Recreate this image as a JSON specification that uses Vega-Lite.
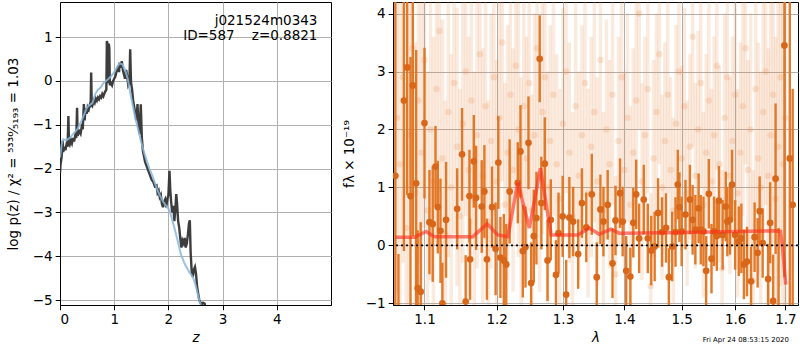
{
  "$schema": "https://vega.github.io/schema/vega-lite/v6.json",
  "padding": {"left": 5, "top": 1, "right": 3, "bottom": 0},
  "spacing": 9,
  "config": {
    "font": "DejaVu Sans",
    "view": {"stroke": "black", "strokeWidth": 1},
    "axis": {
      "gridColor": "#b0b0b0", "gridWidth": 1, "gridOpacity": 1,
      "domainColor": "black", "tickColor": "black", "tickSize": 4.8,
      "labelFontSize": 13.5, "labelColor": "black", "labelPadding": 3,
      "titleFontSize": 13.5, "titleFontWeight": "normal", "titleColor": "black"
    }
  },
  "datasets": {
    "dark": [
      {"z":0.0,"y":-2.1},{"z":0.01,"y":-1.9},{"z":0.03,"y":-1.74},{"z":0.05,"y":-1.36},{"z":0.06,"y":-1.62},{"z":0.08,"y":-1.5},{"z":0.10,"y":-1.58},{"z":0.12,"y":-1.45},{"z":0.14,"y":-1.5},{"z":0.155,"y":-0.8},{"z":0.165,"y":-1.4},{"z":0.18,"y":-1.45},{"z":0.20,"y":-1.35},{"z":0.22,"y":-1.42},{"z":0.24,"y":-1.3},{"z":0.26,"y":-1.38},{"z":0.28,"y":-1.25},{"z":0.30,"y":-1.3},{"z":0.315,"y":-0.61},{"z":0.325,"y":-1.25},{"z":0.34,"y":-1.2},{"z":0.36,"y":-1.15},{"z":0.38,"y":-1.2},{"z":0.40,"y":-1.05},{"z":0.42,"y":-1.1},{"z":0.44,"y":-0.53},{"z":0.455,"y":-0.9},{"z":0.47,"y":-0.62},{"z":0.49,"y":-0.75},{"z":0.51,"y":-0.6},{"z":0.53,"y":-0.65},{"z":0.55,"y":-0.55},{"z":0.565,"y":-0.6},{"z":0.575,"y":0.19},{"z":0.585,"y":-0.5},{"z":0.60,"y":-0.55},{"z":0.62,"y":-0.45},{"z":0.64,"y":-0.5},{"z":0.66,"y":-0.4},{"z":0.68,"y":-0.45},{"z":0.70,"y":-0.38},{"z":0.72,"y":-0.42},{"z":0.74,"y":-0.35},{"z":0.76,"y":-0.38},{"z":0.78,"y":-0.3},{"z":0.80,"y":-0.35},{"z":0.83,"y":-0.25},{"z":0.855,"y":-0.2},{"z":0.865,"y":0.91},{"z":0.875,"y":0.85},{"z":0.885,"y":-0.05},{"z":0.90,"y":0.85},{"z":0.91,"y":0.75},{"z":0.92,"y":-0.1},{"z":0.94,"y":-0.05},{"z":0.96,"y":-0.1},{"z":0.98,"y":0.0},{"z":1.00,"y":0.05},{"z":1.02,"y":0.1},{"z":1.04,"y":0.2},{"z":1.06,"y":0.28},{"z":1.08,"y":0.35},{"z":1.09,"y":0.2},{"z":1.10,"y":0.42},{"z":1.12,"y":0.3},{"z":1.14,"y":0.45},{"z":1.16,"y":0.25},{"z":1.18,"y":0.15},{"z":1.20,"y":0.05},{"z":1.22,"y":0.25},{"z":1.24,"y":0.1},{"z":1.26,"y":-0.1},{"z":1.28,"y":-0.05},{"z":1.295,"y":0.72},{"z":1.31,"y":-0.03},{"z":1.33,"y":-0.2},{"z":1.35,"y":-0.45},{"z":1.37,"y":-0.6},{"z":1.39,"y":-0.76},{"z":1.41,"y":-0.9},{"z":1.43,"y":-0.53},{"z":1.45,"y":-1.05},{"z":1.47,"y":-1.21},{"z":1.49,"y":-0.53},{"z":1.51,"y":-1.3},{"z":1.53,"y":-1.6},{"z":1.55,"y":-1.72},{"z":1.57,"y":-1.85},{"z":1.60,"y":-1.95},{"z":1.63,"y":-2.05},{"z":1.66,"y":-2.15},{"z":1.69,"y":-2.25},{"z":1.72,"y":-2.3},{"z":1.75,"y":-2.4},{"z":1.78,"y":-2.38},{"z":1.80,"y":-2.55},{"z":1.82,"y":-2.5},{"z":1.84,"y":-2.65},{"z":1.86,"y":-2.6},{"z":1.88,"y":-2.8},{"z":1.90,"y":-2.88},{"z":1.92,"y":-2.75},{"z":1.94,"y":-2.7},{"z":1.96,"y":-2.88},{"z":1.98,"y":-2.7},{"z":2.00,"y":-2.6},{"z":2.02,"y":-2.05},{"z":2.035,"y":-2.5},{"z":2.05,"y":-2.75},{"z":2.07,"y":-3.0},{"z":2.09,"y":-2.85},{"z":2.11,"y":-3.2},{"z":2.13,"y":-2.9},{"z":2.145,"y":-2.58},{"z":2.16,"y":-2.8},{"z":2.18,"y":-3.2},{"z":2.20,"y":-3.35},{"z":2.22,"y":-3.6},{"z":2.24,"y":-3.8},{"z":2.26,"y":-3.64},{"z":2.28,"y":-3.7},{"z":2.30,"y":-3.58},{"z":2.32,"y":-3.8},{"z":2.34,"y":-3.7},{"z":2.36,"y":-3.5},{"z":2.38,"y":-3.25},{"z":2.395,"y":-3.18},{"z":2.41,"y":-3.9},{"z":2.43,"y":-4.35},{"z":2.45,"y":-4.47},{"z":2.47,"y":-4.3},{"z":2.49,"y":-4.24},{"z":2.51,"y":-4.4},{"z":2.53,"y":-4.7},{"z":2.55,"y":-4.85},{"z":2.57,"y":-5.0},{"z":2.59,"y":-5.05},{"z":2.61,"y":-5.1},{"z":2.64,"y":-5.06},{"z":2.67,"y":-5.08},{"z":2.69,"y":-5.3}
    ],
    "smooth": [
      {"z":0.0,"y":-1.75},{"z":0.03,"y":-1.45},{"z":0.06,"y":-1.33},{"z":0.12,"y":-1.35},{"z":0.18,"y":-1.3},{"z":0.25,"y":-1.2},{"z":0.32,"y":-1.1},{"z":0.4,"y":-0.9},{"z":0.45,"y":-0.75},{"z":0.5,"y":-0.6},{"z":0.55,"y":-0.55},{"z":0.6,"y":-0.5},{"z":0.65,"y":-0.3},{"z":0.7,"y":-0.2},{"z":0.75,"y":-0.15},{"z":0.8,"y":-0.05},{"z":0.87,"y":0.02},{"z":0.94,"y":0.1},{"z":1.0,"y":0.2},{"z":1.06,"y":0.33},{"z":1.1,"y":0.4},{"z":1.15,"y":0.38},{"z":1.2,"y":0.25},{"z":1.25,"y":0.05},{"z":1.3,"y":-0.3},{"z":1.35,"y":-0.6},{"z":1.4,"y":-0.9},{"z":1.45,"y":-1.15},{"z":1.5,"y":-1.4},{"z":1.56,"y":-1.67},{"z":1.65,"y":-2.0},{"z":1.7,"y":-2.15},{"z":1.8,"y":-2.5},{"z":1.9,"y":-2.75},{"z":2.02,"y":-2.95},{"z":2.1,"y":-3.3},{"z":2.17,"y":-3.64},{"z":2.23,"y":-3.95},{"z":2.3,"y":-4.17},{"z":2.38,"y":-4.35},{"z":2.45,"y":-4.47},{"z":2.5,"y":-4.65},{"z":2.57,"y":-5.0},{"z":2.62,"y":-5.2}
    ],
    "faint": [
      {"l":1.064,"y":2.2,"e":3.0},{"l":1.068,"y":1.4,"e":2.8},{"l":1.072,"y":2.9,"e":3.2},{"l":1.076,"y":0.3,"e":2.5},{"l":1.080,"y":1.9,"e":3.0},{"l":1.084,"y":3.4,"e":3.2},{"l":1.088,"y":0.9,"e":2.6},{"l":1.092,"y":2.5,"e":2.8},{"l":1.096,"y":1.6,"e":2.7},{"l":1.100,"y":3.2,"e":2.9},{"l":1.104,"y":0.6,"e":2.4},{"l":1.108,"y":2.0,"e":2.6},{"l":1.112,"y":1.1,"e":2.5},{"l":1.116,"y":2.7,"e":2.7},{"l":1.120,"y":3.7,"e":2.8},{"l":1.124,"y":1.5,"e":2.4},{"l":1.128,"y":0.2,"e":2.3},{"l":1.132,"y":2.3,"e":2.5},{"l":1.136,"y":1.0,"e":2.3},{"l":1.140,"y":2.8,"e":2.6},{"l":1.144,"y":1.7,"e":2.4},{"l":1.148,"y":0.5,"e":2.2},{"l":1.152,"y":2.1,"e":2.4},{"l":1.156,"y":3.0,"e":2.5},{"l":1.160,"y":1.3,"e":2.3},{"l":1.164,"y":2.5,"e":2.4},{"l":1.168,"y":0.8,"e":2.2},{"l":1.172,"y":1.9,"e":2.3},{"l":1.176,"y":3.3,"e":2.5},{"l":1.180,"y":1.2,"e":2.2},{"l":1.184,"y":2.4,"e":2.3},{"l":1.188,"y":0.4,"e":2.1},{"l":1.192,"y":1.8,"e":2.2},{"l":1.196,"y":2.9,"e":2.4},{"l":1.200,"y":1.1,"e":2.1},{"l":1.204,"y":2.2,"e":2.2},{"l":1.208,"y":3.5,"e":2.4},{"l":1.212,"y":0.7,"e":2.1},{"l":1.216,"y":1.6,"e":2.2},{"l":1.220,"y":2.6,"e":2.3},{"l":1.224,"y":1.3,"e":2.1},{"l":1.228,"y":3.1,"e":2.3},{"l":1.232,"y":2.0,"e":2.2},{"l":1.236,"y":0.9,"e":2.0},{"l":1.240,"y":2.4,"e":2.2},{"l":1.244,"y":1.5,"e":2.1},{"l":1.248,"y":2.8,"e":2.2},{"l":1.252,"y":0.6,"e":2.0},{"l":1.256,"y":1.9,"e":2.1},{"l":1.260,"y":3.4,"e":2.3},{"l":1.264,"y":1.2,"e":2.0},{"l":1.268,"y":2.3,"e":2.1},{"l":1.272,"y":2.9,"e":2.2},{"l":1.276,"y":1.0,"e":2.0},{"l":1.280,"y":1.8,"e":2.0},{"l":1.285,"y":2.6,"e":2.1},{"l":1.290,"y":1.4,"e":1.9},{"l":1.295,"y":0.8,"e":1.9},{"l":1.300,"y":2.1,"e":2.0},{"l":1.305,"y":3.0,"e":2.1},{"l":1.310,"y":1.6,"e":1.9},{"l":1.315,"y":0.5,"e":1.8},{"l":1.320,"y":2.4,"e":2.0},{"l":1.325,"y":1.2,"e":1.8},{"l":1.330,"y":1.9,"e":1.9},{"l":1.335,"y":2.8,"e":2.0},{"l":1.340,"y":0.9,"e":1.8},{"l":1.345,"y":1.7,"e":1.9},{"l":1.350,"y":2.3,"e":1.9},{"l":1.355,"y":1.1,"e":1.8},{"l":1.360,"y":3.2,"e":2.0},{"l":1.365,"y":0.6,"e":1.7},{"l":1.370,"y":2.0,"e":1.9},{"l":1.375,"y":1.4,"e":1.8},{"l":1.380,"y":2.6,"e":1.9},{"l":1.385,"y":-0.5,"e":1.7},{"l":1.390,"y":1.8,"e":1.8},{"l":1.395,"y":2.9,"e":1.9},{"l":1.400,"y":1.3,"e":1.7},{"l":1.405,"y":2.2,"e":1.8},{"l":1.410,"y":0.7,"e":1.7},{"l":1.415,"y":1.6,"e":1.8},{"l":1.420,"y":2.5,"e":1.8},{"l":1.425,"y":4.0,"e":2.0},{"l":1.430,"y":1.1,"e":1.7},{"l":1.435,"y":1.9,"e":1.7},{"l":1.440,"y":2.7,"e":1.8},{"l":1.445,"y":-0.7,"e":1.6},{"l":1.450,"y":1.5,"e":1.7},{"l":1.455,"y":2.3,"e":1.7},{"l":1.460,"y":3.3,"e":1.9},{"l":1.465,"y":1.0,"e":1.6},{"l":1.470,"y":1.8,"e":1.7},{"l":1.475,"y":2.6,"e":1.7},{"l":1.480,"y":1.3,"e":1.6},{"l":1.485,"y":0.6,"e":1.6},{"l":1.490,"y":2.1,"e":1.7},{"l":1.495,"y":3.0,"e":1.8},{"l":1.500,"y":1.5,"e":1.6},{"l":1.505,"y":2.4,"e":1.7},{"l":1.510,"y":0.9,"e":1.6},{"l":1.515,"y":1.7,"e":1.6},{"l":1.520,"y":3.6,"e":1.9},{"l":1.525,"y":1.2,"e":1.6},{"l":1.530,"y":2.0,"e":1.7},{"l":1.535,"y":2.8,"e":1.8},{"l":1.540,"y":0.7,"e":1.6},{"l":1.545,"y":1.6,"e":1.7},{"l":1.550,"y":2.5,"e":1.7},{"l":1.555,"y":1.1,"e":1.6},{"l":1.560,"y":1.9,"e":1.7},{"l":1.565,"y":3.1,"e":1.8},{"l":1.570,"y":1.4,"e":1.7},{"l":1.575,"y":-0.4,"e":1.7},{"l":1.580,"y":2.2,"e":1.8},{"l":1.585,"y":2.9,"e":1.8},{"l":1.590,"y":1.2,"e":1.7},{"l":1.595,"y":1.8,"e":1.8},{"l":1.600,"y":2.6,"e":1.9},{"l":1.605,"y":0.9,"e":1.8},{"l":1.610,"y":1.6,"e":1.9},{"l":1.615,"y":2.4,"e":1.9},{"l":1.620,"y":3.4,"e":2.0},{"l":1.625,"y":1.3,"e":1.9},{"l":1.630,"y":2.0,"e":2.0},{"l":1.635,"y":-0.6,"e":1.9},{"l":1.640,"y":2.7,"e":2.1},{"l":1.645,"y":1.5,"e":2.0},{"l":1.650,"y":1.0,"e":2.0},{"l":1.655,"y":2.3,"e":2.2},{"l":1.660,"y":3.0,"e":2.3},{"l":1.665,"y":1.2,"e":2.2},{"l":1.670,"y":1.9,"e":2.4},{"l":1.675,"y":2.6,"e":2.6},{"l":1.680,"y":0.8,"e":2.8},{"l":1.685,"y":1.7,"e":3.2},{"l":1.690,"y":2.9,"e":3.6},{"l":1.695,"y":1.4,"e":4.0},{"l":1.700,"y":2.2,"e":4.5}
    ],
    "spec": [
      {"l":1.062,"y":1.2,"e":3.5},{"l":1.066,"y":-1.3,"e":1.15},{"l":1.073,"y":2.5,"e":2.6},{"l":1.0772,"y":3.07,"e":2.2},{"l":1.0816,"y":0.85,"e":2.4},{"l":1.0846,"y":2.76,"e":2.6},{"l":1.089,"y":1.07,"e":2.3},{"l":1.091,"y":-0.74,"e":1.0},{"l":1.095,"y":-0.8,"e":1.2},{"l":1.1,"y":2.11,"e":1.3},{"l":1.1066,"y":0.4,"e":0.9},{"l":1.111,"y":0.37,"e":1.0},{"l":1.1147,"y":1.36,"e":0.7},{"l":1.1178,"y":0.66,"e":0.8},{"l":1.1214,"y":0.25,"e":0.9},{"l":1.124,"y":-1.0,"e":0.7},{"l":1.129,"y":0.44,"e":1.0},{"l":1.1442,"y":0.63,"e":0.7},{"l":1.151,"y":1.57,"e":0.8},{"l":1.156,"y":-0.97,"e":0.8},{"l":1.1613,"y":0.85,"e":0.8},{"l":1.1622,"y":-0.24,"e":0.7},{"l":1.1674,"y":1.45,"e":0.8},{"l":1.1706,"y":0.82,"e":0.9},{"l":1.1786,"y":0.67,"e":0.8},{"l":1.1824,"y":0.93,"e":0.8},{"l":1.186,"y":-0.24,"e":0.7},{"l":1.1934,"y":0.66,"e":0.7},{"l":1.1985,"y":-0.06,"e":0.8},{"l":1.2025,"y":1.43,"e":0.8},{"l":1.2055,"y":-0.21,"e":0.7},{"l":1.2104,"y":-0.26,"e":0.8},{"l":1.214,"y":-0.33,"e":0.7},{"l":1.219,"y":0.93,"e":0.9},{"l":1.231,"y":1.08,"e":0.7},{"l":1.235,"y":1.62,"e":0.8},{"l":1.2385,"y":-0.1,"e":0.8},{"l":1.2425,"y":-0.03,"e":0.7},{"l":1.247,"y":1.77,"e":0.8},{"l":1.251,"y":-0.65,"e":0.7},{"l":1.255,"y":0.16,"e":0.8},{"l":1.259,"y":0.47,"e":0.8},{"l":1.264,"y":3.22,"e":0.75},{"l":1.2665,"y":0.73,"e":0.8},{"l":1.2718,"y":1.41,"e":0.8},{"l":1.276,"y":-0.26,"e":0.7},{"l":1.281,"y":0.44,"e":0.7},{"l":1.289,"y":-0.51,"e":0.6},{"l":1.293,"y":0.21,"e":0.7},{"l":1.2995,"y":0.5,"e":0.7},{"l":1.305,"y":-0.85,"e":0.6},{"l":1.31,"y":0.48,"e":0.7},{"l":1.316,"y":0.41,"e":0.6},{"l":1.324,"y":-0.15,"e":0.6},{"l":1.33,"y":0.73,"e":0.6},{"l":1.337,"y":0.31,"e":0.6},{"l":1.346,"y":0.88,"e":0.7},{"l":1.354,"y":-0.55,"e":0.6},{"l":1.36,"y":0.62,"e":0.6},{"l":1.365,"y":0.41,"e":0.6},{"l":1.372,"y":0.7,"e":0.6},{"l":1.38,"y":-0.31,"e":0.6},{"l":1.385,"y":0.43,"e":0.6},{"l":1.3925,"y":0.9,"e":0.6},{"l":1.397,"y":0.41,"e":0.6},{"l":1.403,"y":-0.44,"e":0.6},{"l":1.41,"y":-0.54,"e":0.5},{"l":1.415,"y":0.39,"e":0.6},{"l":1.42,"y":0.88,"e":0.6},{"l":1.425,"y":0.12,"e":0.6},{"l":1.433,"y":0.79,"e":0.6},{"l":1.44,"y":0.12,"e":0.6},{"l":1.446,"y":-0.09,"e":0.6},{"l":1.452,"y":-0.02,"e":0.6},{"l":1.458,"y":0.56,"e":0.6},{"l":1.465,"y":0.23,"e":0.6},{"l":1.472,"y":0.3,"e":0.6},{"l":1.477,"y":-0.55,"e":0.5},{"l":1.483,"y":-0.02,"e":0.6},{"l":1.489,"y":0.23,"e":0.6},{"l":1.493,"y":1.05,"e":0.6},{"l":1.496,"y":0.66,"e":0.6},{"l":1.5,"y":0.24,"e":0.6},{"l":1.507,"y":0.53,"e":0.6},{"l":1.515,"y":0.79,"e":0.6},{"l":1.52,"y":0.44,"e":0.6},{"l":1.525,"y":0.27,"e":0.6},{"l":1.531,"y":0.64,"e":0.6},{"l":1.535,"y":0.27,"e":0.6},{"l":1.54,"y":0.24,"e":0.6},{"l":1.545,"y":-0.44,"e":0.6},{"l":1.55,"y":0.89,"e":0.6},{"l":1.555,"y":-0.23,"e":0.6},{"l":1.56,"y":0.24,"e":0.6},{"l":1.565,"y":0.16,"e":0.6},{"l":1.569,"y":0.77,"e":0.6},{"l":1.576,"y":0.18,"e":0.6},{"l":1.582,"y":0.67,"e":0.6},{"l":1.585,"y":0.41,"e":0.6},{"l":1.59,"y":0.44,"e":0.6},{"l":1.594,"y":1.05,"e":0.6},{"l":1.6,"y":0.18,"e":0.6},{"l":1.607,"y":0.07,"e":0.6},{"l":1.612,"y":0.12,"e":0.6},{"l":1.617,"y":-0.33,"e":0.6},{"l":1.623,"y":-0.28,"e":0.6},{"l":1.631,"y":-0.62,"e":0.6},{"l":1.638,"y":0.14,"e":0.6},{"l":1.644,"y":-0.13,"e":0.6},{"l":1.648,"y":0.59,"e":0.6},{"l":1.654,"y":0.04,"e":0.6},{"l":1.665,"y":-0.58,"e":0.6},{"l":1.669,"y":0.39,"e":0.7},{"l":1.675,"y":-0.96,"e":0.8},{"l":1.68,"y":1.15,"e":1.3},{"l":1.686,"y":-1.2,"e":1.5},{"l":1.698,"y":3.45,"e":4.0},{"l":1.709,"y":1.5,"e":3.5},{"l":1.715,"y":0.7,"e":2.0}
    ],
    "model": [
      {"l":1.062,"y":0.14},{"l":1.0674,"y":0.14},{"l":1.0869,"y":0.14},{"l":1.1022,"y":0.24},{"l":1.1133,"y":0.15},{"l":1.166,"y":0.15},{"l":1.1863,"y":0.37},{"l":1.2017,"y":0.18},{"l":1.2163,"y":0.15},{"l":1.231,"y":1.08},{"l":1.2483,"y":0.3},{"l":1.2651,"y":1.33},{"l":1.2815,"y":0.18},{"l":1.3233,"y":0.18},{"l":1.342,"y":0.3},{"l":1.358,"y":0.19},{"l":1.3775,"y":0.28},{"l":1.3912,"y":0.21},{"l":1.4,"y":0.21},{"l":1.5,"y":0.22},{"l":1.6,"y":0.24},{"l":1.677,"y":0.25},{"l":1.69,"y":0.24},{"l":1.694,"y":-0.03},{"l":1.7007,"y":-0.68}
    ]
  },
  "hconcat": [
    {
      "width": 271,
      "height": 303,
      "layer": [
        {
          "data": {"name": "dark"},
          "mark": {"type": "line", "color": "#333333", "strokeWidth": 2.4, "opacity": 0.95, "clip": true},
          "encoding": {
            "x": {"field": "z", "type": "quantitative", "title": "z", "scale": {"domain": [0, 5], "nice": false},
                  "axis": {"values": [0, 1, 2, 3, 4], "titleFontStyle": "italic", "format": "d", "titlePadding": 4}},
            "y": {"field": "y", "type": "quantitative", "title": "log p(z) / χ² = ⁵³³⁰⁄₅₁₉₃ = 1.03", "scale": {"domain": [-5.11, 1.8], "nice": false, "zero": false},
                  "axis": {"values": [-5, -4, -3, -2, -1, 0, 1], "format": "d", "titlePadding": 12}}
          }
        },
        {
          "data": {"name": "smooth"},
          "mark": {"type": "line", "color": "#8ab8dc", "strokeWidth": 2, "opacity": 0.85, "clip": true},
          "encoding": {
            "x": {"field": "z", "type": "quantitative", "title": "z"},
            "y": {"field": "y", "type": "quantitative", "title": "log p(z) / χ² = ⁵³³⁰⁄₅₁₉₃ = 1.03"}
          }
        },
        {
          "data": {"values": [{}]},
          "mark": {"type": "text", "text": "j021524m0343", "align": "right", "baseline": "middle", "fontSize": 13.5, "color": "black"},
          "encoding": {"x": {"datum": 4.75, "type": "quantitative"}, "y": {"datum": 1.36, "type": "quantitative"}}
        },
        {
          "data": {"values": [{}]},
          "mark": {"type": "text", "text": "ID=587\u00a0\u00a0\u00a0\u00a0z=0.8821", "align": "right", "baseline": "middle", "fontSize": 13.5, "color": "black"},
          "encoding": {"x": {"datum": 4.75, "type": "quantitative"}, "y": {"datum": 1.02, "type": "quantitative"}}
        }
      ]
    },
    {
      "width": 405,
      "height": 303,
      "layer": [
        {
          "data": {"name": "faint"},
          "mark": {"type": "errorbar", "color": "#e8823a", "opacity": 0.17, "thickness": 3.5, "clip": true},
          "encoding": {
            "x": {"field": "l", "type": "quantitative", "title": "λ",
                  "scale": {"type": "log", "domain": [1.059, 1.726], "nice": false},
                  "axis": {"values": [1.1, 1.2, 1.3, 1.4, 1.5, 1.6, 1.7], "format": ".1f", "titleFontStyle": "italic", "titlePadding": 4}},
            "y": {"field": "y", "type": "quantitative", "title": "fλ × 10⁻¹⁹",
                  "scale": {"domain": [-1.03, 4.2], "nice": false, "zero": false},
                  "axis": {"values": [-1, 0, 1, 2, 3, 4], "format": "d", "titlePadding": 9}},
            "yError": {"field": "e"}
          }
        },
        {
          "data": {"name": "faint"},
          "mark": {"type": "point", "filled": true, "shape": "circle", "size": 42, "color": "#e8823a", "opacity": 0.18, "clip": true},
          "encoding": {
            "x": {"field": "l", "type": "quantitative", "title": "λ"},
            "y": {"field": "y", "type": "quantitative", "title": "fλ × 10⁻¹⁹"}
          }
        },
        {
          "data": {"name": "spec"},
          "mark": {"type": "errorbar", "color": "#e0731f", "opacity": 0.95, "thickness": 2.4, "clip": true},
          "encoding": {
            "x": {"field": "l", "type": "quantitative", "title": "λ"},
            "y": {"field": "y", "type": "quantitative", "title": "fλ × 10⁻¹⁹"},
            "yError": {"field": "e"}
          }
        },
        {
          "data": {"name": "spec"},
          "mark": {"type": "point", "filled": true, "shape": "circle", "size": 45, "color": "#d8671a", "opacity": 1, "clip": true},
          "encoding": {
            "x": {"field": "l", "type": "quantitative", "title": "λ"},
            "y": {"field": "y", "type": "quantitative", "title": "fλ × 10⁻¹⁹"}
          }
        },
        {
          "data": {"name": "model"},
          "mark": {"type": "line", "color": "#ff2a1a", "strokeWidth": 3.5, "opacity": 0.6, "clip": true},
          "encoding": {
            "x": {"field": "l", "type": "quantitative", "title": "λ"},
            "y": {"field": "y", "type": "quantitative", "title": "fλ × 10⁻¹⁹"}
          }
        },
        {
          "data": {"values": [{}]},
          "mark": {"type": "rule", "color": "black", "strokeWidth": 1.6, "strokeDash": [2, 3]},
          "encoding": {"y": {"datum": 0, "type": "quantitative"}}
        },
        {
          "data": {"values": [{}]},
          "mark": {"type": "text", "text": "Fri Apr 24 08:53:15 2020", "align": "right", "baseline": "middle", "fontSize": 6.9, "color": "black", "clip": false},
          "encoding": {"x": {"datum": 1.707, "type": "quantitative"}, "y": {"datum": -1.64, "type": "quantitative"}}
        }
      ]
    }
  ]
}
